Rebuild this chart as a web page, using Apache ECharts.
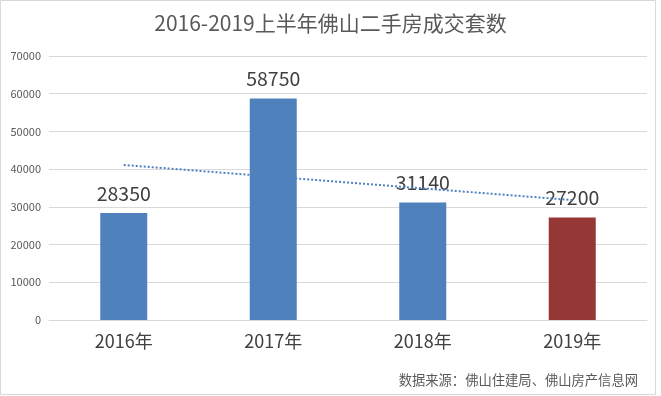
<!DOCTYPE html>
<html><head><meta charset="utf-8">
<script src="https://cdn.jsdelivr.net/npm/echarts@6/dist/echarts.min.js"></script>
<style>html,body{margin:0;padding:0;background:#fff}#c{width:661px;height:396px}</style>
</head><body><div id="c"></div>
<script>
const categories = ['2016年','2017年','2018年','2019年'];
const values = [28350, 58750, 31140, 27200];
const barColors = ['#4F81BD','#4F81BD','#4F81BD','#953735'];
const trend = [41100, null, null, 31800];
const yTicks = {min:0, max:70000, interval:10000};
const titleText = '2016-2019上半年佛山二手房成交套数';
const sourceText = '数据来源：佛山住建局、佛山房产信息网';

const FF = '"Noto Sans CJK SC", "Noto Sans", sans-serif';
const chart = echarts.init(document.getElementById('c'));
chart.setOption({
  animation:false,
  backgroundColor:'#fff',
  title:{text:titleText,left:'center',top:8,textStyle:{fontFamily:FF,fontSize:21,fontWeight:'normal',color:'#595959'}},
  grid:{left:49,right:14,top:56,bottom:76},
  xAxis:{type:'category',data:categories,
    axisLine:{lineStyle:{color:'#d9d9d9'}},axisTick:{show:false},
    axisLabel:{fontFamily:FF,fontSize:18,color:'#404040',margin:12}},
  yAxis:{type:'value',min:yTicks.min,max:yTicks.max,interval:yTicks.interval,
    axisLine:{show:false},axisTick:{show:false},
    splitLine:{lineStyle:{color:'#d9d9d9'}},
    axisLabel:{fontFamily:FF,fontSize:11,color:'#595959',margin:8,formatter:v=>String(v)}},
  series:[
    {type:'bar',barWidth:47,
     data:values.map((v,i)=>({value:v,itemStyle:{color:barColors[i]}})),
     label:{show:true,position:'top',distance:10,fontFamily:FF,fontSize:19.5,color:'#404040'}},
    {type:'line',data:trend,connectNulls:true,symbol:'none',z:5,
     lineStyle:{color:'#4F81BD',width:2,type:[2,2]}}
  ],
  graphic:[
    {type:'rect',shape:{x:0.5,y:0.5,width:655,height:394},style:{fill:'none',stroke:'#d9d9d9',lineWidth:1},silent:true},
    {type:'text',right:23,top:373,style:{text:sourceText,font:'13.3px '+FF,fill:'#595959'}}
  ]
});
</script></body></html>
